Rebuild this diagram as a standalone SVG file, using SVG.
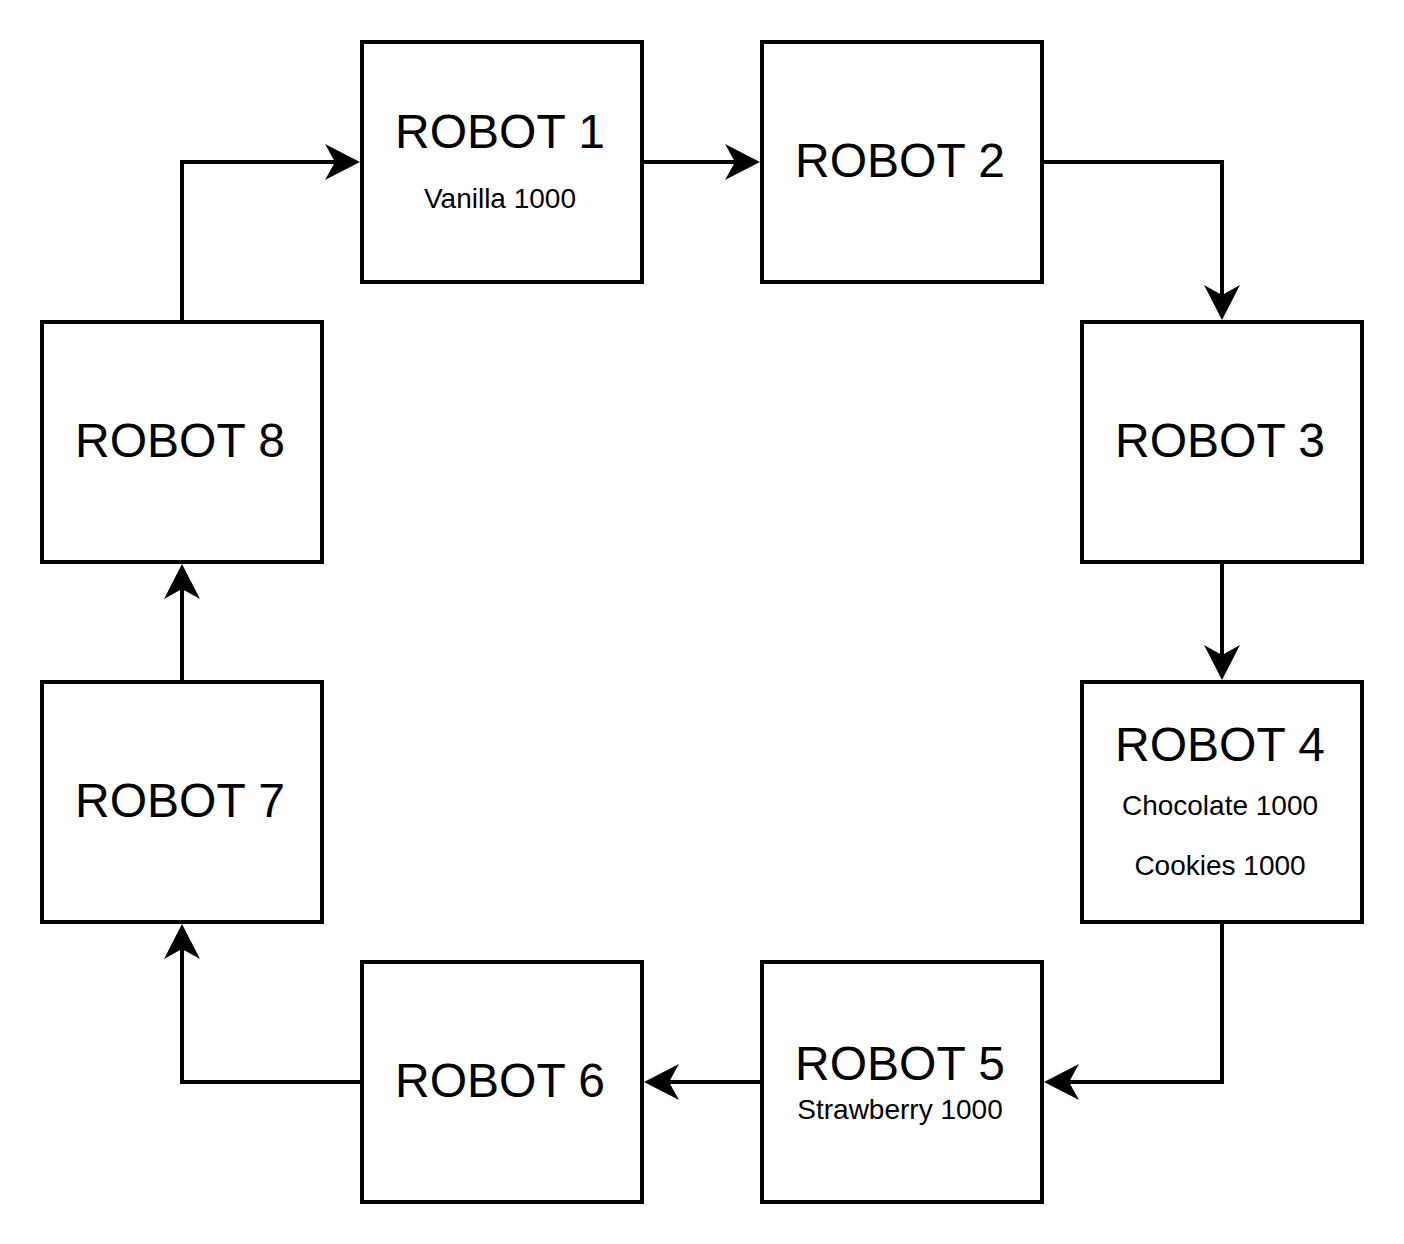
<svg xmlns="http://www.w3.org/2000/svg" width="1404" height="1244" viewBox="0 0 1404 1244">
<style>
.box{fill:#fff;stroke:#000;stroke-width:4}
.t{font-family:"Liberation Sans",Arial,sans-serif;font-size:48px;text-anchor:middle;fill:#000}
.s{font-family:"Liberation Sans",Arial,sans-serif;font-size:28px;text-anchor:middle;fill:#000}
.c{fill:none;stroke:#000;stroke-width:4}
</style>
<defs>
<marker id="arr" markerUnits="userSpaceOnUse" markerWidth="36" markerHeight="36" viewBox="0 0 36 36" refX="25" refY="18" orient="auto">
<path d="M0,0 L35,18 L0,36 L10,18 Z" fill="#000"/>
</marker>
</defs>
<rect width="1404" height="1244" fill="#fff"/>
<g id="connectors">
<path class="c" d="M642,162 L750,162" marker-end="url(#arr)"/>
<path class="c" d="M1042,162 L1222,162 L1222,310" marker-end="url(#arr)"/>
<path class="c" d="M1222,562 L1222,670" marker-end="url(#arr)"/>
<path class="c" d="M1222,922 L1222,1082 L1054,1082" marker-end="url(#arr)"/>
<path class="c" d="M762,1082 L654,1082" marker-end="url(#arr)"/>
<path class="c" d="M362,1082 L182,1082 L182,934" marker-end="url(#arr)"/>
<path class="c" d="M182,682 L182,574" marker-end="url(#arr)"/>
<path class="c" d="M182,322 L182,162 L350,162" marker-end="url(#arr)"/>
</g>
<g id="robot1"><rect class="box" x="362" y="42" width="280" height="240"/><text class="t" x="500" y="148">ROBOT 1</text><text class="s" x="500" y="208">Vanilla 1000</text></g>
<g id="robot2"><rect class="box" x="762" y="42" width="280" height="240"/><text class="t" x="900" y="177">ROBOT 2</text></g>
<g id="robot3"><rect class="box" x="1082" y="322" width="280" height="240"/><text class="t" x="1220" y="457">ROBOT 3</text></g>
<g id="robot4"><rect class="box" x="1082" y="682" width="280" height="240"/><text class="t" x="1220" y="761">ROBOT 4</text><text class="s" x="1220" y="815">Chocolate 1000</text><text class="s" x="1220" y="875">Cookies 1000</text></g>
<g id="robot5"><rect class="box" x="762" y="962" width="280" height="240"/><text class="t" x="900" y="1080">ROBOT 5</text><text class="s" x="900" y="1119">Strawberry 1000</text></g>
<g id="robot6"><rect class="box" x="362" y="962" width="280" height="240"/><text class="t" x="500" y="1097">ROBOT 6</text></g>
<g id="robot7"><rect class="box" x="42" y="682" width="280" height="240"/><text class="t" x="180" y="817">ROBOT 7</text></g>
<g id="robot8"><rect class="box" x="42" y="322" width="280" height="240"/><text class="t" x="180" y="457">ROBOT 8</text></g>
</svg>
